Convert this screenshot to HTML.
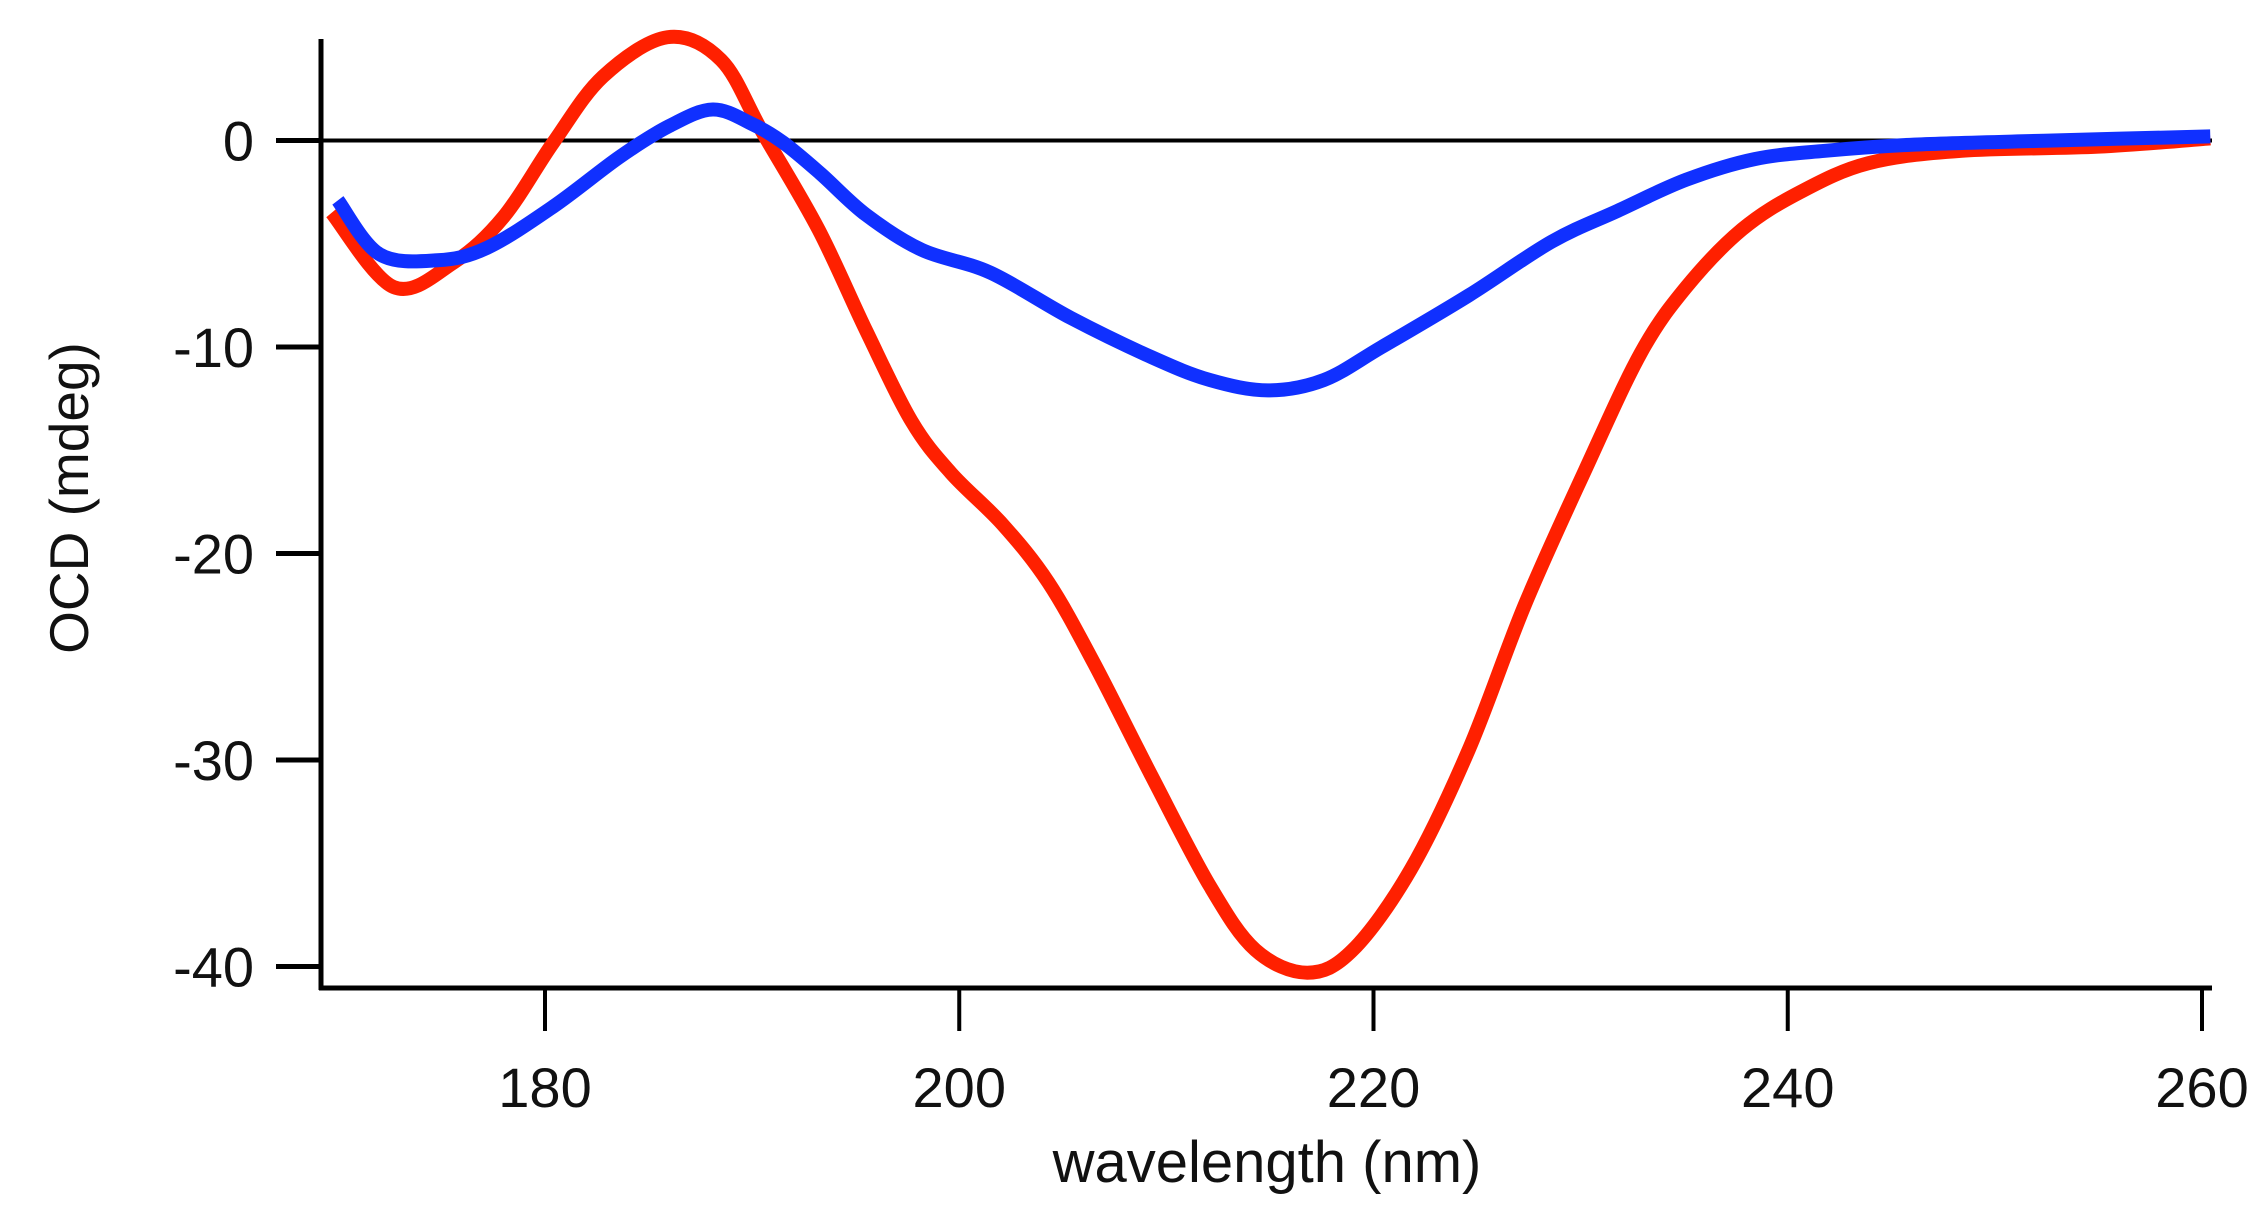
<!DOCTYPE html>
<html><head><meta charset="utf-8"><style>
html,body{margin:0;padding:0;background:#fff;}
svg{display:block;font-family:"Liberation Sans",Arial,sans-serif;}
</style></head><body>
<svg id="chart" width="2266" height="1230" viewBox="0 0 2266 1230">
<g id="axes"></g>
<g id="series"></g>
</svg>
<script>
const xTicks = [180, 200, 220, 240, 260];
const yTicks = [0, -10, -20, -30, -40];
const redX = [169.7,172.7,175.6,178.0,180.4,182.8,185.9,188.5,190.5,193.2,195.5,197.7,199.6,202.1,204.3,206.5,209.3,212.1,214.3,216.8,219.0,221.8,224.6,227.3,230.2,232.9,235.1,237.8,240.6,243.9,248.4,255,260.4];
const redY = [-3.5,-7.1,-5.9,-3.7,-0.1,3.1,5.0,3.9,0.4,-4.3,-9.2,-13.6,-16.1,-18.6,-21.4,-25.3,-30.8,-36.1,-39.2,-40.3,-39.2,-35.3,-29.5,-22.5,-16.0,-10.3,-7.1,-4.3,-2.5,-1.1,-0.5,-0.3,0.1];
const blueX = [170.0,172.0,174.8,177.2,180.4,183.6,186.0,188.1,190.0,191.5,193.3,195.5,198.2,201.5,205.4,209.3,212.1,214.9,217.6,220.4,224.6,228.6,231.8,235.1,238.4,241.8,246.1,252.8,260.4];
const blueY = [-2.9,-5.5,-5.8,-5.2,-3.2,-0.8,0.7,1.5,0.8,-0.1,-1.6,-3.6,-5.3,-6.4,-8.6,-10.5,-11.6,-12.1,-11.6,-10.0,-7.5,-4.9,-3.4,-1.9,-0.9,-0.5,-0.2,0,0.2];

const NS = "http://www.w3.org/2000/svg";
const X = v => 545 + (v - 180) * (1657 / 80);
const Y = v => 140.5 + (-v) * (826 / 40);
const axes = document.getElementById('axes');
const series = document.getElementById('series');
function mk(tag, attrs, parent) {
  const e = document.createElementNS(NS, tag);
  for (const k in attrs) e.setAttribute(k, attrs[k]);
  parent.appendChild(e);
  return e;
}
let e;
e = mk('line', {x1:276, y1:Y(0), x2:2212, y2:Y(0), stroke:'#000', 'stroke-width':4}, axes);


e = mk('line', {x1:321, y1:39, x2:321, y2:990, stroke:'#000', 'stroke-width':5}, axes);


e = mk('line', {x1:319, y1:988, x2:2212, y2:988, stroke:'#000', 'stroke-width':5}, axes);


yTicks.forEach(t => {
  const l = mk('line', {x1:276, y1:Y(t), x2:321, y2:Y(t), stroke:'#000', 'stroke-width':5}, axes);
  
  
  const tx = mk('text', {x:254, y:Y(t) + 20, 'text-anchor':'end', 'font-size':56, fill:'#111'}, axes);
  tx.textContent = String(t);
  
  
});
xTicks.forEach(t => {
  const l = mk('line', {x1:X(t), y1:988, x2:X(t), y2:1031, stroke:'#000', 'stroke-width':4}, axes);
  
  
  const tx = mk('text', {x:X(t), y:1107, 'text-anchor':'middle', 'font-size':56, fill:'#111'}, axes);
  tx.textContent = String(t);
  
  
});
e = mk('text', {x:1267, y:1182, 'text-anchor':'middle', 'font-size':58, fill:'#111'}, axes);
e.textContent = 'wavelength (nm)';


e = mk('text', {x:0, y:0, 'text-anchor':'middle', 'font-size':55, fill:'#111', transform:'translate(88,498) rotate(-90)'}, axes);
e.textContent = 'OCD (mdeg)';



function pathFor(xs, ys) {
  const p = xs.map((x, i) => [X(x), Y(ys[i])]);
  let d = 'M' + p[0][0] + ',' + p[0][1];
  for (let i = 0; i < p.length - 1; i++) {
    const p0 = p[Math.max(0, i - 1)], p1 = p[i], p2 = p[i + 1], p3 = p[Math.min(p.length - 1, i + 2)];
    const c1x = p1[0] + (p2[0] - p0[0]) / 6, c1y = p1[1] + (p2[1] - p0[1]) / 6;
    const c2x = p2[0] - (p3[0] - p1[0]) / 6, c2y = p2[1] - (p3[1] - p1[1]) / 6;
    d += ' C' + c1x + ',' + c1y + ' ' + c2x + ',' + c2y + ' ' + p2[0] + ',' + p2[1];
  }
  return d;
}
e = mk('path', {d:pathFor(redX, redY), fill:'none', stroke:'#ff2000', 'stroke-width':14, 'stroke-linejoin':'round'}, series);


e = mk('path', {d:pathFor(blueX, blueY), fill:'none', stroke:'#1030ff', 'stroke-width':14, 'stroke-linejoin':'round'}, series);


</script>
</body></html>
